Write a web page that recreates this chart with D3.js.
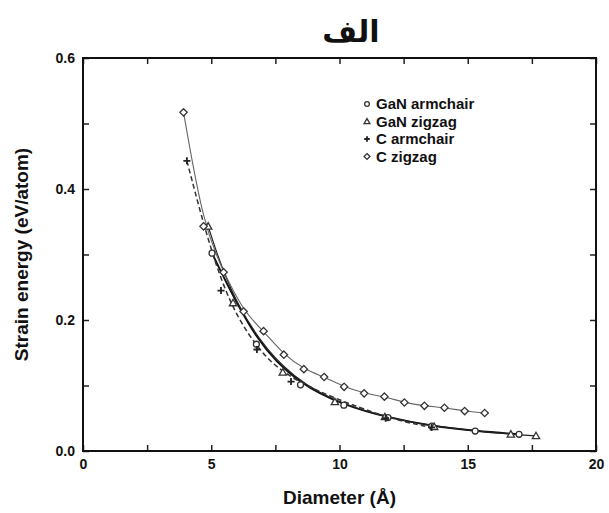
<!DOCTYPE html>
<html>
<head>
<meta charset="utf-8">
<script src="https://cdn.jsdelivr.net/npm/d3@7"></script>
<style>
  html, body { margin: 0; padding: 0; background: #fff; }
  svg { display: block; }
  text { font-family: "Liberation Sans", Arial, sans-serif; font-weight: bold; fill: #111; }
</style>
</head>
<body>
<svg id="chart" width="609" height="513"></svg>
<script>
// Strain energy of nanotubes vs. diameter
const titleText = "الف";
const xLabel = "Diameter (Å)";
const yLabel = "Strain energy (eV/atom)";

const xTicks = [0, 2.5, 5, 7.5, 10, 12.5, 15, 17.5, 20];
const xTickLabels = ["0", "", "5", "", "10", "", "15", "", "20"];
const yTicks = [0, 0.1, 0.2, 0.3, 0.4, 0.5, 0.6];
const yTickLabels = ["0.0", "", "0.2", "", "0.4", "", "0.6"];

const seriesNames = ["GaN armchair", "GaN zigzag", "C armchair", "C zigzag"];

// GaN armchair (circles)
const ganArmD = [5.03, 6.76, 8.48, 10.17, 11.89, 13.60, 15.29, 17.00];
const ganArmE = [0.302, 0.163, 0.101, 0.070, 0.051, 0.038, 0.0305, 0.0255];

// GaN zigzag (triangles)
const ganZigD = [4.88, 5.85, 7.79, 9.82, 11.77, 13.69, 16.68, 17.66];
const ganZigE = [0.343, 0.226, 0.120, 0.075, 0.052, 0.037, 0.0255, 0.023];

// C armchair (plus signs)
const cArmD = [4.05, 5.38, 6.78, 8.11, 11.80, 13.59];
const cArmE = [0.443, 0.245, 0.155, 0.106, 0.050, 0.036];

// C zigzag (diamonds)
const cZigD = [3.92, 4.70, 5.48, 6.26, 7.04, 7.83, 8.61, 9.40, 10.18, 10.96, 11.75, 12.53, 13.31, 14.09, 14.88, 15.66];
const cZigE = [0.517, 0.343, 0.273, 0.213, 0.183, 0.147, 0.125, 0.113, 0.098, 0.088, 0.083, 0.074, 0.069, 0.066, 0.061, 0.058];

const zip = (xs, ys) => xs.map((d, i) => ({ d, e: ys[i] }));

const series = [
  { name: seriesNames[0], pts: zip(ganArmD, ganArmE), marker: "circle",   line: { stroke: "#111", width: 1.9, dash: null } },
  { name: seriesNames[1], pts: zip(ganZigD, ganZigE), marker: "triangle", line: { stroke: "#222", width: 1.2, dash: null } },
  { name: seriesNames[2], pts: zip(cArmD, cArmE),     marker: "plus",     line: { stroke: "#333", width: 1.5, dash: "5,3" } },
  { name: seriesNames[3], pts: zip(cZigD, cZigE),     marker: "diamond",  line: { stroke: "#666", width: 1.1, dash: null } }
];

const svg = d3.select("#chart");
const plotLeft = 83, plotRight = 596, plotTop = 58, plotBottom = 451;

const x = d3.scaleLinear().domain([0, 20]).range([plotLeft, plotRight]);
const y = d3.scaleLinear().domain([0, 0.6]).range([plotBottom, plotTop]);

// Title
svg.append("text")
  .attr("x", 351).attr("y", 42)
  .attr("text-anchor", "middle")
  .style("font-family", "'DejaVu Sans', sans-serif")
  .style("font-size", "30px")
  .text(titleText);

// Axes with inward ticks on all four sides
const fmtX = (v) => xTickLabels[xTicks.indexOf(v)];
const fmtY = (v) => yTickLabels[yTicks.findIndex(t => Math.abs(t - v) < 1e-9)];

const gx = svg.append("g").attr("transform", `translate(0,${plotBottom})`)
  .call(d3.axisBottom(x).tickValues(xTicks).tickFormat(fmtX).tickSizeInner(-6).tickSizeOuter(0).tickPadding(8));
const gxt = svg.append("g").attr("transform", `translate(0,${plotTop})`)
  .call(d3.axisTop(x).tickValues(xTicks).tickFormat("").tickSizeInner(-6).tickSizeOuter(0));
const gy = svg.append("g").attr("transform", `translate(${plotLeft},0)`)
  .call(d3.axisLeft(y).tickValues(yTicks).tickFormat(fmtY).tickSizeInner(-6).tickSizeOuter(0).tickPadding(8));
const gyr = svg.append("g").attr("transform", `translate(${plotRight},0)`)
  .call(d3.axisRight(y).tickValues(yTicks).tickFormat("").tickSizeInner(-6).tickSizeOuter(0));

[gx, gxt, gy, gyr].forEach(g => {
  g.select(".domain").remove();
  g.selectAll(".tick line").attr("stroke", "#222").attr("stroke-width", 1.5);
  g.selectAll(".tick text").style("font-size", "14px").style("font-family", "'Liberation Sans', Arial, sans-serif").style("font-weight", "bold").attr("fill", "#111");
});

// Frame
svg.append("rect")
  .attr("x", plotLeft).attr("y", plotTop)
  .attr("width", plotRight - plotLeft).attr("height", plotBottom - plotTop)
  .attr("fill", "none").attr("stroke", "#111").attr("stroke-width", 2);

// Axis titles
svg.append("text")
  .attr("x", (plotLeft + plotRight) / 2).attr("y", 504)
  .attr("text-anchor", "middle")
  .style("font-size", "19px")
  .text(xLabel);

svg.append("text")
  .attr("transform", `translate(28,${(plotTop + plotBottom) / 2}) rotate(-90)`)
  .attr("text-anchor", "middle")
  .style("font-size", "19px")
  .text(yLabel);

// Marker drawing
function drawMarker(g, type, cx, cy, s) {
  const stroke = "#333";
  if (type === "circle") {
    g.append("circle").attr("cx", cx).attr("cy", cy).attr("r", s * 0.85)
      .attr("fill", "#fff").attr("stroke", stroke).attr("stroke-width", 1.3);
  } else if (type === "triangle") {
    const h = s * 1.05;
    g.append("path").attr("d", `M${cx},${cy - h} L${cx + h},${cy + h * 0.75} L${cx - h},${cy + h * 0.75} Z`)
      .attr("fill", "#fff").attr("stroke", stroke).attr("stroke-width", 1.3);
  } else if (type === "plus") {
    g.append("path").attr("d", `M${cx - s},${cy} L${cx + s},${cy} M${cx},${cy - s} L${cx},${cy + s}`)
      .attr("fill", "none").attr("stroke", "#222").attr("stroke-width", 1.8);
  } else if (type === "diamond") {
    const h = s * 1.05;
    g.append("path").attr("d", `M${cx},${cy - h} L${cx + h},${cy} L${cx},${cy + h} L${cx - h},${cy} Z`)
      .attr("fill", "#fff").attr("stroke", stroke).attr("stroke-width", 1.3);
  }
}

// Curves
const lineGen = d3.line().x(p => x(p.d)).y(p => y(p.e)).curve(d3.curveBasis);
const plot = svg.append("g");
series.forEach(s => {
  plot.append("path")
    .attr("d", lineGen(s.pts))
    .attr("fill", "none")
    .attr("stroke", s.line.stroke)
    .attr("stroke-width", s.line.width)
    .attr("stroke-dasharray", s.line.dash);
});

// Markers
series.forEach(s => {
  const g = plot.append("g");
  s.pts.forEach(p => drawMarker(g, s.marker, x(p.d), y(p.e), 3.5));
});

// Legend
const legend = svg.append("g");
series.forEach((s, i) => {
  const ly = 104 + i * 17.5;
  drawMarker(legend, s.marker, 367, ly, 2.8);
  legend.append("text")
    .attr("x", 376).attr("y", ly + 5)
    .style("font-size", "15px")
    .text(s.name);
});
</script>
</body>
</html>
